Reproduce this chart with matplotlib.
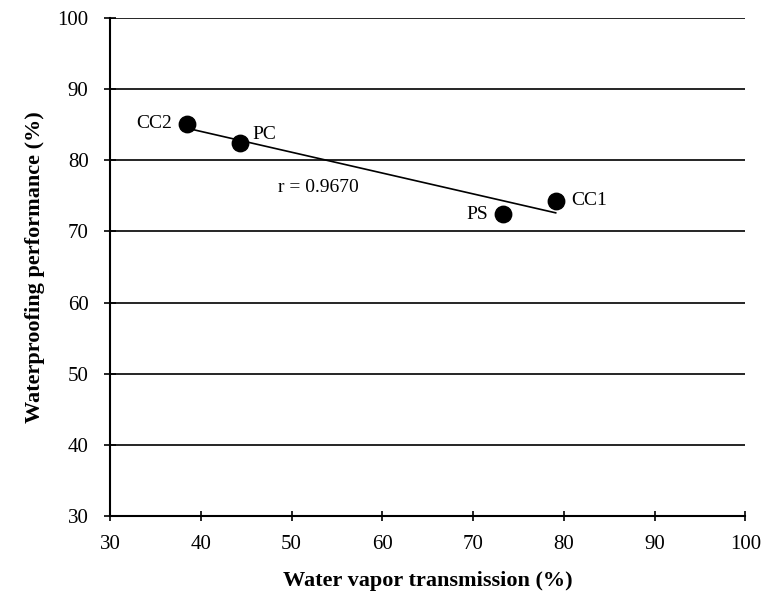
import numpy as np
import matplotlib.pyplot as plt

plt.rcParams["font.family"] = ["Liberation Serif", "DejaVu Serif"]

names = ["CC2", "PC", "PS", "CC1"]
wvt = [38.5, 44.3, 73.3, 79.1]
wpp = [85.1, 82.4, 72.4, 74.3]
r_text = "r = 0.9670"

fig = plt.figure(figsize=(7.7, 5.96), dpi=100)
ax = fig.add_axes([0.143, 0.134, 0.825, 0.836])

for yy in range(40, 101, 10):
    ax.axhline(yy, color="black", lw=1.2, zorder=1)

ax.scatter(wvt, wpp, s=140, color="black", zorder=3)

k, b = np.polyfit(wvt, wpp, 1)
xs = np.array([min(wvt), max(wvt)])
ax.plot(xs, k * xs + b, color="black", lw=1.2, zorder=2)

offsets = {"CC2": (-11, 0, "right"), "PC": (9, 6, "left"),
           "PS": (-11, 0, "right"), "CC1": (11, 0, "left")}
for n, x, y in zip(names, wvt, wpp):
    dx, dy, ha = offsets[n]
    ax.annotate(n, (x, y), xytext=(dx, dy), textcoords="offset points",
                ha=ha, va="center", fontsize=14)
ax.text(53.0, 76.2, r_text, ha="center", va="center", fontsize=14)

ax.set_xlim(30, 100)
ax.set_ylim(30, 100)
ax.set_xticks(range(30, 101, 10))
ax.set_yticks(range(30, 101, 10))
ax.tick_params(direction="inout", width=1.2, labelsize=15)
ax.tick_params(axis="x", length=7, pad=10)
ax.tick_params(axis="y", length=9, pad=11)
for s in ["top", "right"]:
    ax.spines[s].set_visible(False)
for s in ["left", "bottom"]:
    ax.spines[s].set_linewidth(1.5)

ax.set_xlabel("Water vapor transmission (%)", fontsize=16, fontweight="bold", labelpad=12)
ax.set_ylabel("Waterproofing performance (%)", fontsize=16, fontweight="bold", labelpad=9)

fig.savefig("out.png", dpi=100)
